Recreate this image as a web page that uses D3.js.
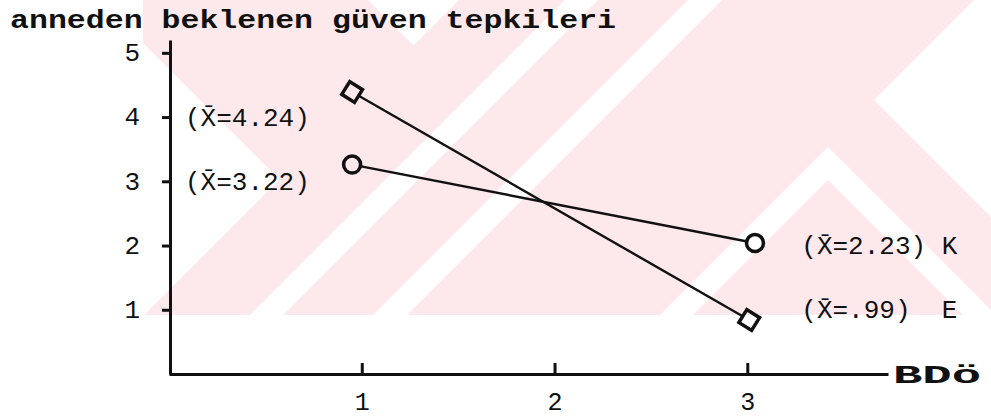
<!DOCTYPE html>
<html><head><meta charset="utf-8">
<script src="https://cdn.jsdelivr.net/npm/d3@7"></script>
<style>html,body{margin:0;padding:0;background:#fff;overflow:hidden} svg{display:block}</style>
</head><body>
<script>
// ---- data ----
const titleText = "anneden beklenen güven tepkileri";
const xAxisLabel = "BDö";
const xTicks = [1, 2, 3];
const yTicks = [1, 2, 3, 4, 5];
const seriesNames = ["K", "E"];
// marker positions (x on BDö scale, y on 0-5 scale)
const xPosK = [0.95, 3.04];
const valuesK = [3.26, 2.04];
const xPosE = [0.95, 3.01];
const valuesE = [4.39, 0.84];
// printed means
const meansK = [3.22, 2.23];
const meansE = [4.24, 0.99];
const labelsK = ["(X\u0304=3.22)", "(X\u0304=2.23) K"];
const labelsE = ["(X\u0304=4.24)", "(X\u0304=.99)  E"];

const W = 991, H = 420;
const ink = "#111";
const pink = "#fde8eb";

const svg = d3.select("body").append("svg").attr("width", W).attr("height", H);
svg.append("rect").attr("width", W).attr("height", H).attr("fill", "#fff");

// ---- background watermark (scan overlay) ----
const wmH = 315;
const defs = svg.append("defs");
defs.append("clipPath").attr("id", "wmclip").append("rect")
  .attr("x", 143).attr("y", 0).attr("width", W - 143).attr("height", wmH);
const wm = svg.append("g").attr("clip-path", "url(#wmclip)");
wm.append("rect").attr("x", 0).attr("y", 0).attr("width", W).attr("height", wmH).attr("fill", pink);
const slashBand = (c1, c2) => [[c1, 0], [c2, 0], [c2 - wmH, wmH], [c1 - wmH, wmH]];
const poly = (pts, fill) => wm.append("polygon").attr("points", pts.map(p => p.join(",")).join(" ")).attr("fill", fill);
poly([[279.5, 179.5], [100, 0], [0, 0], [0, wmH], [144, wmH]], "#fff");
poly([[368, 0], [459, 0], [413.5, 45.5]], "#fff");
poly(slashBand(565, 598), "#fff");
poly(slashBand(688, 722), "#fff");
poly([[828, 147], [660, wmH], [996, wmH]], "#fff");
poly([[828, 180], [693, wmH], [963, wmH]], pink);
poly([[874, 100], [974, 0], [1100, 0], [1100, 326]], "#fff");

// ---- scales ----
const x = d3.scaleLinear().domain([0, 3.73]).range([169, 888]);
const y = d3.scaleLinear().domain([0, 5.2]).range([374, 40]);

const fontMono = "'Liberation Mono','Courier New',monospace";

// ---- axes ----
const yAxis = svg.append("g").attr("transform", `translate(${x(0) + 1},0)`)
  .call(d3.axisLeft(y).tickValues(yTicks).tickSizeInner(8).tickSizeOuter(0).tickPadding(22).tickFormat(d3.format("d")));
const xAxis = svg.append("g").attr("transform", `translate(0,${y(0)})`)
  .call(d3.axisBottom(x).tickValues(xTicks).tickSizeInner(-11).tickSizeOuter(0).tickFormat(d3.format("d")));
[yAxis, xAxis].forEach(g => {
  g.select(".domain").attr("stroke", ink).attr("stroke-width", 3);
  g.selectAll(".tick line").attr("stroke", ink).attr("stroke-width", 3);
  g.selectAll(".tick text").attr("fill", ink).attr("font-family", fontMono).attr("font-size", 26);
});
yAxis.selectAll(".tick text").attr("dy", "0.3em");
xAxis.selectAll(".tick text").attr("font-size", 25).attr("y", 36).attr("dy", 0);

// ---- series ----
const series = [
  {name: seriesNames[0], xs: xPosK, vs: valuesK, means: meansK, labels: labelsK, shape: d3.symbolCircle},
  {name: seriesNames[1], xs: xPosE, vs: valuesE, means: meansE, labels: labelsE, shape: d3.symbolSquare}
];

const markerPath = (s) => s.shape === d3.symbolCircle
  ? d3.symbol().type(d3.symbolCircle).size(Math.PI * 8.5 * 8.5)()
  : d3.symbol().type(d3.symbolSquare).size(15 * 15)();

// mask to stop lines at marker edges
const mask = defs.append("mask").attr("id", "lineMask").attr("maskUnits", "userSpaceOnUse")
  .attr("x", 0).attr("y", 0).attr("width", W).attr("height", H);
mask.append("rect").attr("width", W).attr("height", H).attr("fill", "#fff");
series.forEach(s => {
  s.vs.forEach((v, i) => {
    mask.append("path").attr("d", markerPath(s)).attr("fill", "#000")
      .attr("transform", `translate(${x(s.xs[i])},${y(v)}) rotate(${s.shape === d3.symbolSquare ? 32 : 0})`);
  });
});

const line = d3.line().x(d => x(d[0])).y(d => y(d[1]));
const linesG = svg.append("g").attr("mask", "url(#lineMask)");
series.forEach(s => {
  linesG.append("path").attr("d", line(s.xs.map((xv, i) => [xv, s.vs[i]])))
    .attr("fill", "none").attr("stroke", ink).attr("stroke-width", 2.4);
});
series.forEach(s => {
  s.vs.forEach((v, i) => {
    svg.append("path").attr("d", markerPath(s)).attr("fill", "none").attr("stroke", ink).attr("stroke-width", 3.5)
      .attr("transform", `translate(${x(s.xs[i])},${y(v)}) rotate(${s.shape === d3.symbolSquare ? 32 : 0})`);
  });
});

// ---- value labels ----
series.forEach(s => {
  s.labels.forEach((lab, i) => {
    const left = i === 0;
    svg.append("text").attr("x", left ? x(0) + 16 : x(3) + 54).attr("y", y(Math.round(s.means[i])))
      .attr("dy", "0.33em").attr("font-family", fontMono).attr("font-size", 26).attr("fill", ink)
      .attr("xml:space", "preserve").style("white-space", "pre").text(lab);
  });
});

// ---- title & axis label ----
svg.append("text").attr("x", 10).attr("y", 28).attr("font-family", fontMono).attr("font-weight", "bold")
  .attr("font-size", 26).attr("fill", ink).attr("textLength", 606).attr("lengthAdjust", "spacingAndGlyphs").text(titleText);
svg.append("text").attr("x", 893).attr("y", 383).attr("font-family", fontMono).attr("font-weight", "bold")
  .attr("font-size", 25).attr("fill", ink).attr("textLength", 88).attr("lengthAdjust", "spacingAndGlyphs").text(xAxisLabel);
</script>
</body></html>
